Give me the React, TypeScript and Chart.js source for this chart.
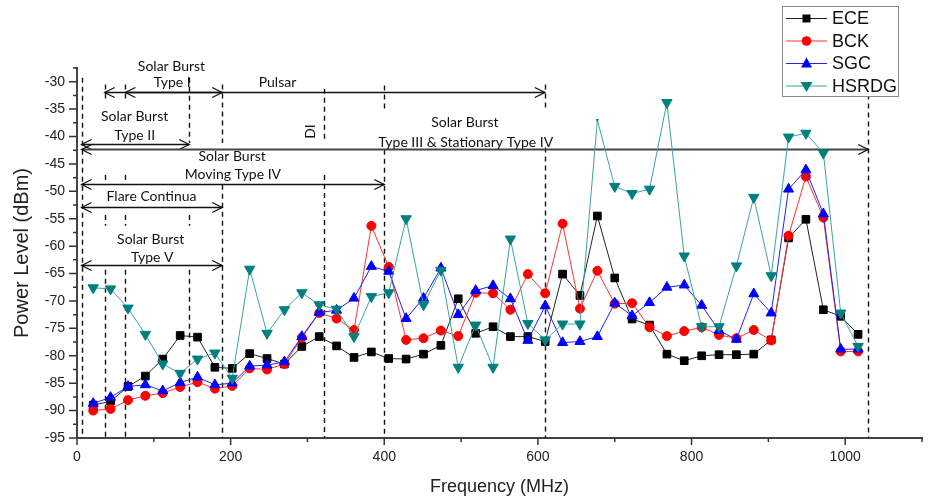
import React, { useEffect, useRef } from "react";
import { Chart, registerables } from "chart.js";

Chart.register(...registerables);

// ---------------- data ----------------
const frequencies = [
  21.1, 43.7, 66.4, 89.0, 111.6, 134.3, 156.9, 179.5, 202.1, 224.8,
  247.4, 270.0, 292.7, 315.3, 337.9, 360.6, 383.2, 405.8, 428.4, 451.1,
  473.7, 496.3, 519.0, 541.6, 564.2, 586.9, 609.5, 632.1, 654.7, 677.4,
  700.0, 722.6, 745.3, 767.9, 790.5, 813.2, 835.8, 858.4, 881.0, 903.7,
  926.3, 948.9, 971.6, 994.2, 1016.8,
];

const ece = [
  -89.0, -88.3, -85.6, -83.7, -80.6, -76.3, -76.6, -82.1, -82.3, -79.6,
  -80.5, -81.5, -78.3, -76.5, -78.2, -80.3, -79.3, -80.5, -80.6, -79.7,
  -78.1, -69.6, -75.9, -74.7, -76.5, -76.5, -77.4, -65.1, -69.0, -54.5,
  -65.8, -73.3, -74.4, -79.7, -80.9, -80.0, -79.8, -79.8, -79.7, -77.1,
  -58.5, -55.1, -71.6, -72.8, -76.1,
];

const bck = [
  -90.0, -89.7, -88.1, -87.3, -86.8, -85.7, -84.8, -86.0, -85.5, -82.3,
  -82.5, -81.5, -76.7, -72.2, -73.2, -75.3, -56.3, -63.8, -77.1, -76.8,
  -75.4, -76.4, -68.5, -68.6, -71.6, -65.1, -68.6, -55.9, -71.4, -64.5,
  -70.5, -70.4, -74.8, -76.4, -75.5, -74.8, -76.2, -76.8, -75.3, -77.2,
  -58.1, -47.3, -54.8, -79.2, -79.2,
];

const sgc = [
  -88.7, -87.6, -85.6, -85.3, -86.4, -84.9, -83.9, -85.3, -85.0, -81.9,
  -81.7, -81.1, -76.5, -72.1, -71.7, -69.5, -63.7, -64.6, -73.2, -69.5,
  -64.0, -72.5, -68.1, -67.2, -69.6, -77.2, -70.9, -77.6, -77.4, -76.5,
  -70.4, -72.7, -70.3, -67.5, -67.1, -70.8, -75.4, -77.0, -68.7, -72.2,
  -49.6, -46.1, -54.1, -78.8, -78.8,
];

const hsrdg = [
  -67.6, -67.8, -71.3, -76.1, -81.5, -83.2, -80.6, -79.5, -84.1, -64.2,
  -75.9, -71.6, -68.5, -70.7, -71.5, -76.5, -69.2, -68.5, -55.0, -70.7,
  -64.4, -82.1, -74.4, -82.1, -58.7, -74.1, -77.1, -74.2, -74.2, -37.0,
  -49.1, -50.4, -49.6, -33.8, -61.8, -74.7, -74.7, -63.6, -51.1, -65.4,
  -40.1, -39.4, -43.0, -72.2, -78.3,
];

const seriesNames = ["ECE", "BCK", "SGC", "HSRDG"];

const xMajorTicks = [0, 200, 400, 600, 800, 1000];
const xMinorTicks = [100, 300, 500, 700, 900, 1100];
const yMajorTicks = [-95, -90, -85, -80, -75, -70, -65, -60, -55, -50, -45, -40, -35, -30];
const yMinorTicks = [-92.5, -87.5, -82.5, -77.5, -72.5, -67.5, -62.5, -57.5, -52.5, -47.5, -42.5, -37.5, -32.5, -27.5];

// band boundaries (MHz) with visible dashed segments (dBm)
const bandLines = [
  { f: 6, segs: [[-29.3, -95]] },
  { f: 36, segs: [[-30.5, -33.7], [-47.0, -48.3], [-54.3, -56.3], [-64.3, -95]] },
  { f: 63, segs: [[-30.5, -33.7], [-47.0, -48.3], [-54.3, -56.3], [-64.3, -95]] },
  { f: 146, segs: [[-29.3, -41.2], [-54.3, -56.3], [-64.3, -95]] },
  { f: 189, segs: [[-30.5, -41.2], [-48.8, -95]] },
  { f: 322, segs: [[-31.3, -40.6], [-47.0, -95]] },
  { f: 400, segs: [[-30.7, -35.5], [-42.4, -95]] },
  { f: 609, segs: [[-30.5, -34.7], [-42.0, -95]] },
  { f: 1030, segs: [[-30.7, -95]] },
];

// frequency ranges (MHz) at a level (dBm)
const bandArrows = [
  { from: 36, to: 609, level: -31.8, heavy: false },
  { from: 63, to: 189, level: -31.8, heavy: false },
  { from: 6, to: 146, level: -41.4, heavy: false },
  { from: 6, to: 1030, level: -42.3, heavy: true },
  { from: 6, to: 400, level: -48.6, heavy: false },
  { from: 6, to: 189, level: -52.8, heavy: false },
  { from: 6, to: 189, level: -63.4, heavy: false },
];

const bandLabels = [
  { f: 123, level: -27.3, text: "Solar Burst" },
  { f: 124, level: -30.2, text: "Type I" },
  { f: 261, level: -30.2, text: "Pulsar" },
  { f: 75, level: -36.4, text: "Solar Burst" },
  { f: 75, level: -39.9, text: "Type II" },
  { f: 505, level: -37.5, text: "Solar Burst" },
  { f: 506, level: -41.0, text: "Type III & Stationary Type IV" },
  { f: 202, level: -43.7, text: "Solar Burst" },
  { f: 203, level: -47.0, text: "Moving Type IV" },
  { f: 97, level: -51.0, text: "Flare Continua" },
  { f: 96, level: -58.8, text: "Solar Burst" },
  { f: 98, level: -62.1, text: "Type V" },
];
const rotatedLabel = { f: 304, level: -39.1, text: "DI" };

// ---------------- styles ----------------
const COLORS = {
  ece: { line: "#222222", mark: "#000000" },
  bck: { line: "#ff3030", mark: "#ff0000" },
  sgc: { line: "#2020ff", mark: "#0000ff" },
  hsrdg: { line: "#3aa3a3", mark: "#007f7f" },
};
const AXIS_FONT = "'Liberation Sans', Arial, sans-serif";
const NOTE_FONT = "Lato, 'Open Sans', sans-serif";

function drawMarker(ctx: CanvasRenderingContext2D, kind: string, x: number, y: number, color: string) {
  ctx.save();
  ctx.fillStyle = color;
  ctx.beginPath();
  if (kind === "square") {
    ctx.rect(x - 4, y - 4, 8, 8);
  } else if (kind === "circle") {
    ctx.arc(x, y, 4.8, 0, Math.PI * 2);
  } else if (kind === "up") {
    ctx.moveTo(x, y - 6);
    ctx.lineTo(x + 5.5, y + 4);
    ctx.lineTo(x - 5.5, y + 4);
    ctx.closePath();
  } else {
    ctx.moveTo(x, y + 6);
    ctx.lineTo(x + 6, y - 4);
    ctx.lineTo(x - 6, y - 4);
    ctx.closePath();
  }
  ctx.fill();
  ctx.restore();
}

const annotationPlugin = {
  id: "bandAnnotations",
  beforeDatasetsDraw(chart: any) {
    const { ctx } = chart;
    const xs = chart.scales.x;
    const ys = chart.scales.y;
    ctx.save();
    // dashed band boundaries
    ctx.strokeStyle = "#111";
    ctx.lineWidth = 1.4;
    ctx.setLineDash([5, 4]);
    for (const l of bandLines) {
      const px = Math.round(xs.getPixelForValue(l.f)) + 0.5;
      for (const [a, b] of l.segs) {
        ctx.beginPath();
        ctx.moveTo(px, ys.getPixelForValue(a));
        ctx.lineTo(px, ys.getPixelForValue(b));
        ctx.stroke();
      }
    }
    ctx.setLineDash([]);
    // arrows
    for (const a of bandArrows) {
      const x0 = xs.getPixelForValue(a.from);
      const x1 = xs.getPixelForValue(a.to);
      const py = Math.round(ys.getPixelForValue(a.level)) + 0.5;
      ctx.strokeStyle = a.heavy ? "#444" : "#111";
      ctx.lineWidth = a.heavy ? 2 : 1.3;
      ctx.beginPath();
      ctx.moveTo(x0, py);
      ctx.lineTo(x1, py);
      ctx.stroke();
      ctx.lineWidth = 1.3;
      ctx.strokeStyle = "#111";
      ctx.beginPath();
      ctx.moveTo(x0 + 10, py - 5);
      ctx.lineTo(x0, py);
      ctx.lineTo(x0 + 10, py + 5);
      ctx.moveTo(x1 - 10, py - 5);
      ctx.lineTo(x1, py);
      ctx.lineTo(x1 - 10, py + 5);
      ctx.stroke();
    }
    // labels
    ctx.fillStyle = "#111";
    ctx.font = `14px ${NOTE_FONT}`;
    ctx.textAlign = "center";
    ctx.textBaseline = "middle";
    for (const t of bandLabels) {
      ctx.fillText(t.text, xs.getPixelForValue(t.f), ys.getPixelForValue(t.level));
    }
    ctx.save();
    ctx.translate(xs.getPixelForValue(rotatedLabel.f), ys.getPixelForValue(rotatedLabel.level));
    ctx.rotate(-Math.PI / 2);
    ctx.fillText(rotatedLabel.text, 0, 0);
    ctx.restore();
    ctx.restore();
  },
  afterDraw(chart: any) {
    const { ctx, chartArea } = chart;
    const xs = chart.scales.x;
    const ys = chart.scales.y;
    ctx.save();
    // tick marks
    ctx.strokeStyle = "#333";
    ctx.lineWidth = 1.5;
    ctx.beginPath();
    for (const v of xMajorTicks) {
      const px = xs.getPixelForValue(v);
      ctx.moveTo(px, chartArea.bottom);
      ctx.lineTo(px, chartArea.bottom + 7);
    }
    for (const v of xMinorTicks) {
      const px = xs.getPixelForValue(v);
      ctx.moveTo(px, chartArea.bottom);
      ctx.lineTo(px, chartArea.bottom + 4);
    }
    for (const v of yMajorTicks) {
      const py = ys.getPixelForValue(v);
      ctx.moveTo(chartArea.left - 8, py);
      ctx.lineTo(chartArea.left, py);
    }
    for (const v of yMinorTicks) {
      const py = ys.getPixelForValue(v);
      ctx.moveTo(chartArea.left - 4, py);
      ctx.lineTo(chartArea.left, py);
    }
    ctx.stroke();

    // axis titles
    ctx.fillStyle = "#222";
    ctx.textAlign = "center";
    ctx.textBaseline = "middle";
    ctx.font = `18px ${AXIS_FONT}`;
    ctx.fillText("Frequency (MHz)", (chartArea.left + chartArea.right) / 2, 487);
    ctx.save();
    ctx.translate(22, (chartArea.top + chartArea.bottom) / 2);
    ctx.rotate(-Math.PI / 2);
    ctx.font = `20px ${AXIS_FONT}`;
    ctx.fillText("Power Level (dBm)", 0, 0);
    ctx.restore();

    // legend
    const lx = 782.5, ly = 6.5, lw = 116, lh = 90;
    ctx.fillStyle = "#fff";
    ctx.fillRect(lx, ly, lw, lh);
    ctx.strokeStyle = "#8a8a8a";
    ctx.lineWidth = 1;
    ctx.strokeRect(lx, ly, lw, lh);
    const entries = [
      { name: seriesNames[0], c: COLORS.ece, kind: "square" },
      { name: seriesNames[1], c: COLORS.bck, kind: "circle" },
      { name: seriesNames[2], c: COLORS.sgc, kind: "up" },
      { name: seriesNames[3], c: COLORS.hsrdg, kind: "down" },
    ];
    entries.forEach((e, i) => {
      const cy = 18.5 + i * 22.5;
      ctx.strokeStyle = e.c.line;
      ctx.lineWidth = 1;
      ctx.beginPath();
      ctx.moveTo(786, cy);
      ctx.lineTo(827, cy);
      ctx.stroke();
      drawMarker(ctx, e.kind, 806.5, cy, e.c.mark);
      ctx.fillStyle = "#111";
      ctx.font = `18px ${AXIS_FONT}`;
      ctx.textAlign = "left";
      ctx.textBaseline = "middle";
      ctx.fillText(e.name, 832, cy + 1);
    });
    ctx.restore();
  },
};

export default function App() {
  const canvasRef = useRef<HTMLCanvasElement | null>(null);

  useEffect(() => {
    const canvas = canvasRef.current;
    if (!canvas) return;
    const toPts = (vals: number[]) => frequencies.map((f, i) => ({ x: f, y: vals[i] }));
    const chart = new Chart(canvas, {
      type: "line",
      data: {
        datasets: [
          {
            label: seriesNames[0],
            data: toPts(ece),
            borderColor: COLORS.ece.line,
            backgroundColor: COLORS.ece.mark,
            pointBackgroundColor: COLORS.ece.mark,
            pointBorderColor: COLORS.ece.mark,
            pointStyle: "rect",
            pointRadius: 5.4,
            borderWidth: 1,
            pointBorderWidth: 1,
            order: 3,
          },
          {
            label: seriesNames[1],
            data: toPts(bck),
            borderColor: COLORS.bck.line,
            backgroundColor: COLORS.bck.mark,
            pointBackgroundColor: COLORS.bck.mark,
            pointBorderColor: COLORS.bck.mark,
            pointStyle: "circle",
            pointRadius: 4.5,
            borderWidth: 1,
            pointBorderWidth: 1,
            order: 2,
          },
          {
            label: seriesNames[2],
            data: toPts(sgc),
            borderColor: COLORS.sgc.line,
            backgroundColor: COLORS.sgc.mark,
            pointBackgroundColor: COLORS.sgc.mark,
            pointBorderColor: COLORS.sgc.mark,
            pointStyle: "triangle",
            pointRadius: 5.8,
            borderWidth: 1,
            pointBorderWidth: 1,
            order: 1,
          },
          {
            label: seriesNames[3],
            data: toPts(hsrdg),
            borderColor: COLORS.hsrdg.line,
            backgroundColor: COLORS.hsrdg.mark,
            pointBackgroundColor: COLORS.hsrdg.mark,
            pointBorderColor: COLORS.hsrdg.mark,
            pointStyle: "triangle",
            rotation: 180,
            pointRadius: (c: any) => (c.dataIndex === 29 ? 1.2 : 6),
            borderWidth: 1,
            pointBorderWidth: 1,
            order: 0,
          },
        ],
      },
      options: {
        responsive: false,
        animation: false,
        devicePixelRatio: 1,
        layout: { padding: { top: 68, right: 2, left: 0, bottom: 0 } },
        plugins: { legend: { display: false }, tooltip: { enabled: false } },
        elements: { line: { tension: 0 } },
        scales: {
          x: {
            type: "linear",
            min: 0,
            max: 1100,
            afterBuildTicks: (s: any) => {
              s.ticks = xMajorTicks.map((v) => ({ value: v }));
            },
            afterFit: (s: any) => {
              s.height = 60;
            },
            ticks: {
              padding: 11,
              color: "#222",
              font: { family: AXIS_FONT, size: 14 },
              maxRotation: 0,
              autoSkip: false,
              callback: (v: any) => String(v),
            },
            grid: { display: true, drawOnChartArea: false, drawTicks: false },
            border: { display: true, color: "#444", width: 2 },
          },
          y: {
            type: "linear",
            min: -95,
            max: -27.5,
            afterBuildTicks: (s: any) => {
              s.ticks = yMajorTicks.map((v) => ({ value: v }));
            },
            afterFit: (s: any) => {
              s.width = 77;
            },
            ticks: {
              padding: 12,
              color: "#222",
              font: { family: AXIS_FONT, size: 14 },
              autoSkip: false,
              callback: (v: any) => String(v),
            },
            grid: { display: true, drawOnChartArea: false, drawTicks: false },
            border: { display: true, color: "#444", width: 2 },
          },
        },
      } as any,
      plugins: [annotationPlugin],
    });
    return () => chart.destroy();
  }, []);

  return (
    <div style={{ position: "absolute", left: 0, top: 0, width: 929, height: 498, background: "#fff" }}>
      <canvas ref={canvasRef} width={929} height={498} style={{ display: "block" }} />
    </div>
  );
}
